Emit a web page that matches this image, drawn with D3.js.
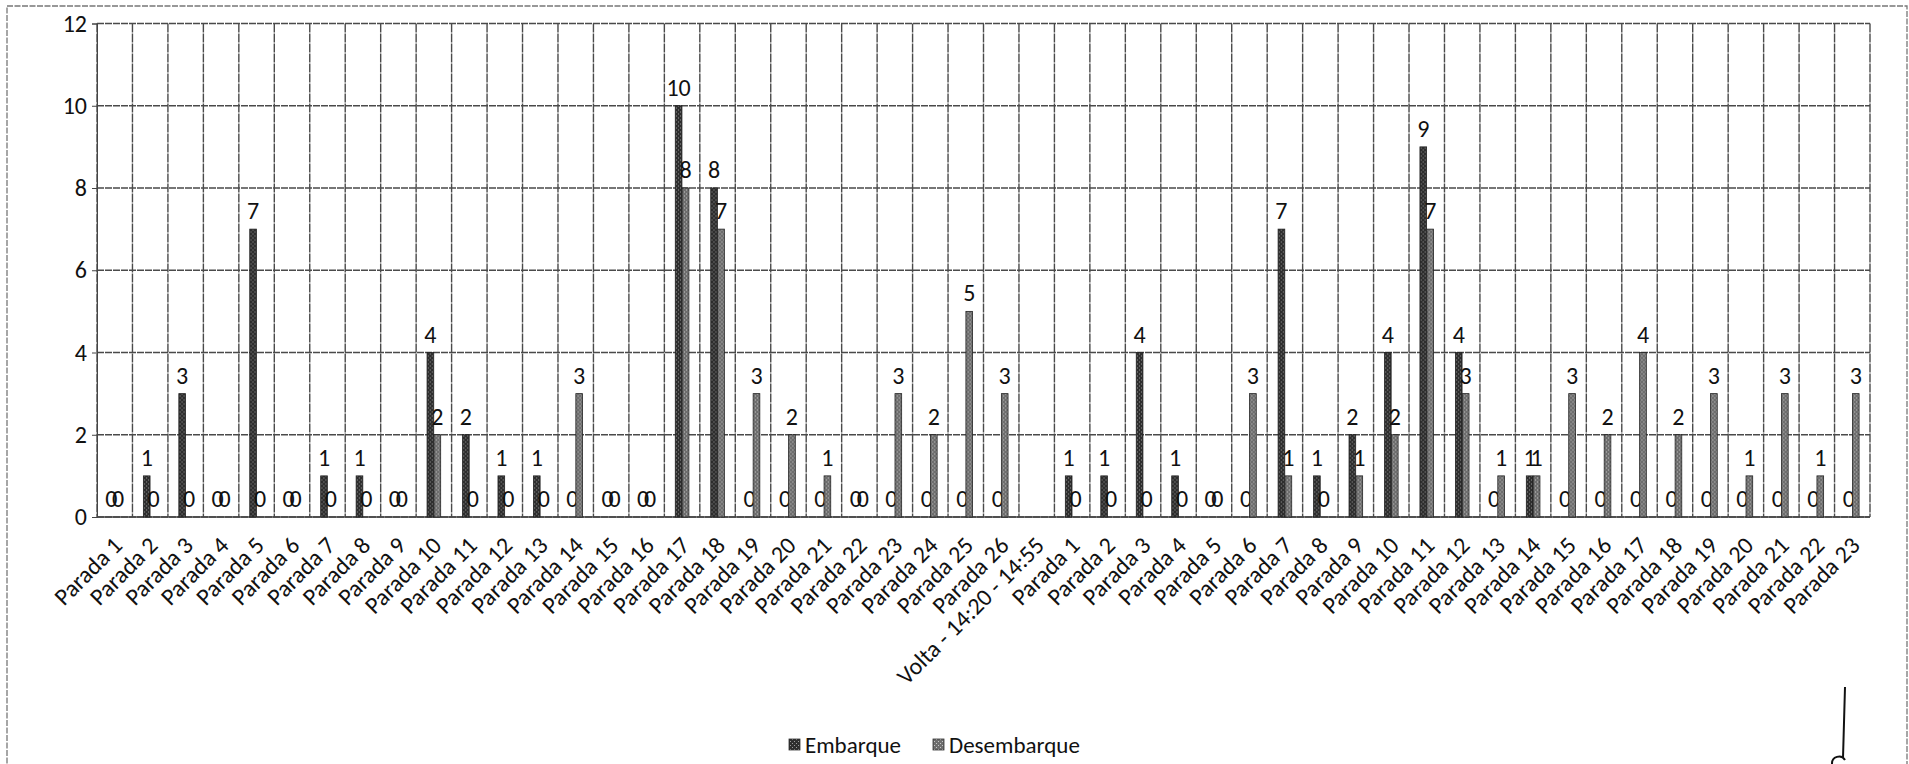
<!DOCTYPE html>
<html>
<head>
<meta charset="utf-8">
<script src="https://cdn.jsdelivr.net/npm/d3@7"></script>
<style>
  body { margin: 0; background: #fff; }
  text { font-family: Calibri, Carlito, Lato, sans-serif; fill: #111; }
</style>
</head>
<body>
<svg id="chart"></svg>
<script>
// categorie (ida 26 paradas, volta 23 paradas)
const paradasIda = d3.range(1, 27).map(i => "Parada " + i);
const paradasVolta = d3.range(1, 24).map(i => "Parada " + i);
const categorias = [...paradasIda, "Volta - 14:20 - 14:55", ...paradasVolta];

// valori
const embarque = [0, 1, 3, 0, 7, 0, 1, 1, 0, 4, 2, 1, 1, 0, 0, 0, 10, 8, 0, 0, 0, 0, 0, 0, 0, 0,
  null,
  1, 1, 4, 1, 0, 0, 7, 1, 2, 4, 9, 4, 0, 1, 0, 0, 0, 0, 0, 0, 0, 0, 0];
const desembarque = [0, 0, 0, 0, 0, 0, 0, 0, 0, 2, 0, 0, 0, 3, 0, 0, 8, 7, 3, 2, 1, 0, 3, 2, 5, 3,
  null,
  0, 0, 0, 0, 0, 3, 1, 0, 1, 2, 7, 3, 1, 1, 3, 2, 4, 2, 3, 1, 3, 1, 3];

const serie = ["Embarque", "Desembarque"];
const yTicks = [0, 2, 4, 6, 8, 10, 12];

const W = 1909, H = 764;
const margin = { top: 23.5, right: 39, bottom: 247, left: 97 };
const width = W - margin.left - margin.right;
const height = H - margin.top - margin.bottom;
const fs = "24px";

const svg = d3.select("#chart").attr("width", W).attr("height", H);

// pattern per simulare il retino della scansione
const defs = svg.append("defs");
function retino(id, base, dot) {
  const p = defs.append("pattern")
    .attr("id", id).attr("patternUnits", "userSpaceOnUse")
    .attr("width", 4).attr("height", 4);
  p.append("rect").attr("width", 4).attr("height", 4).attr("fill", base);
  p.append("rect").attr("x", 1).attr("y", 0).attr("width", 1).attr("height", 1).attr("fill", dot);
  p.append("rect").attr("x", 3).attr("y", 2).attr("width", 1).attr("height", 1).attr("fill", dot);
}
retino("patE", "#2e2e2e", "#9a9a9a");
retino("patD", "#6e6e6e", "#c8c8c8");
const color = d3.scaleOrdinal().domain(serie).range(["url(#patE)", "url(#patD)"]);

// bordo esterno
svg.append("rect")
  .attr("x", 7).attr("y", 6).attr("width", 1900).attr("height", 800)
  .attr("fill", "none").attr("stroke", "#777").attr("stroke-width", 1.3)
  .attr("stroke-dasharray", "6,1.5");

const g = svg.append("g").attr("transform", `translate(${margin.left},${margin.top})`);

// Scale (indice come chiave: i nomi delle paradas si ripetono)
const idx = d3.range(categorias.length);
const x0 = d3.scaleBand()
  .domain(idx)
  .range([0, width])
  .paddingInner(0.6)
  .paddingOuter(0.3);

const x1 = d3.scaleBand()
  .domain(serie)
  .range([0, x0.bandwidth()])
  .padding(0.04);

const y = d3.scaleLinear().domain([0, 12]).range([height, 0]);

// griglia orizzontale
g.append("g")
  .selectAll("line")
  .data(yTicks)
  .join("line")
  .attr("x1", 0).attr("x2", width)
  .attr("y1", d => y(d)).attr("y2", d => y(d))
  .attr("stroke", "#4a4a4a").attr("stroke-width", 1.5)
  .attr("stroke-dasharray", "7,1");

// griglia verticale (confini delle categorie)
const step = x0.step();
g.append("g")
  .selectAll("line")
  .data(d3.range(categorias.length + 1))
  .join("line")
  .attr("x1", i => i * step).attr("x2", i => i * step)
  .attr("y1", 0).attr("y2", height)
  .attr("stroke", "#4a4a4a").attr("stroke-width", 1.4)
  .attr("stroke-dasharray", "9,1");

// asse Y
const yAxis = g.append("g")
  .call(d3.axisLeft(y).tickValues(yTicks).tickSize(5).tickPadding(5));
yAxis.select(".domain").attr("stroke", "#444");
yAxis.selectAll(".tick line").attr("stroke", "#444");
yAxis.selectAll("text")
  .attr("font-size", fs)
  .style("font-family", "Calibri, Carlito, Lato, sans-serif")
  .attr("fill", "#111");

// asse X
g.append("line")
  .attr("x1", 0).attr("x2", width)
  .attr("y1", height).attr("y2", height)
  .attr("stroke", "#444").attr("stroke-width", 1.5);

g.append("g")
  .selectAll("text")
  .data(idx)
  .join("text")
  .attr("transform", i => `translate(${x0(i) + x0.bandwidth() / 2 + 9},${height + 30}) rotate(-45)`)
  .attr("text-anchor", "end")
  .attr("font-size", fs)
  .text(i => categorias[i]);

// barre
const dati = idx.map(i => ({ i, Embarque: embarque[i], Desembarque: desembarque[i] }));

const gruppi = g.append("g")
  .selectAll("g")
  .data(dati)
  .join("g")
  .attr("transform", d => `translate(${x0(d.i)},0)`);

const celle = gruppi.selectAll("g")
  .data(d => serie.map(key => ({ key, value: d[key] })).filter(v => v.value !== null))
  .join("g");

celle.append("rect")
  .attr("x", d => x1(d.key))
  .attr("y", d => y(d.value))
  .attr("width", x1.bandwidth())
  .attr("height", d => height - y(d.value))
  .attr("fill", d => color(d.key))
  .attr("stroke", "#222")
  .attr("stroke-width", 0.8);

celle.append("text")
  .attr("x", d => x1(d.key) + x1.bandwidth() / 2)
  .attr("y", d => y(d.value) - 10)
  .attr("text-anchor", "middle")
  .attr("font-size", fs)
  .text(d => d.value);

// leggenda
const legend = svg.append("g").attr("transform", "translate(789, 745)");
legend.selectAll("g")
  .data(serie)
  .join("g")
  .attr("transform", (d, i) => `translate(${i * 144}, 0)`)
  .call(s => {
    s.append("rect")
      .attr("y", -6).attr("width", 11).attr("height", 11)
      .attr("fill", d => color(d)).attr("stroke", "#333").attr("stroke-width", 0.8);
    s.append("text")
      .attr("x", 16).attr("y", 8)
      .attr("font-size", "23px")
      .text(d => d);
  });

// segno a penna in basso a destra (scansione)
svg.append("path")
  .attr("d", "M1845,687 L1843,758 M1832,764 A7,7 0 0 1 1845,760")
  .attr("fill", "none").attr("stroke", "#111").attr("stroke-width", 2);
</script>
</body>
</html>
